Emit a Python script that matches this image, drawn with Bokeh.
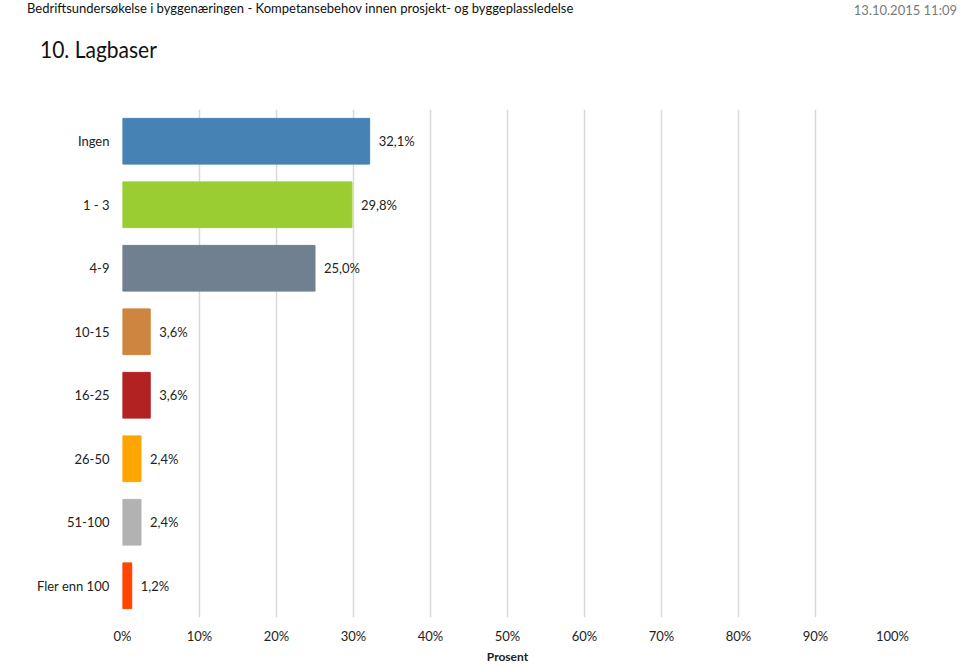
from bokeh.plotting import figure
from bokeh.layouts import column
from bokeh.models import ColumnDataSource, FactorRange, FixedTicker, LabelSet, Div
from bokeh.core.properties import value
from bokeh.embed import file_html
from bokeh.resources import INLINE

categories = ["Ingen", "1 - 3", "4-9", "10-15", "16-25", "26-50", "51-100", "Fler enn 100"]
values = [32.1, 29.8, 25.0, 3.6, 3.6, 2.4, 2.4, 1.2]
colors = ["#4682B4", "#9ACD32", "#708090", "#CD853F", "#B22222", "#FFA500", "#B2B2B2", "#FF4500"]
tick_values = [0, 10, 20, 30, 40, 50, 60, 70, 80, 90, 100]
tick_labels = ["0%", "10%", "20%", "30%", "40%", "50%", "60%", "70%", "80%", "90%", "100%"]
header = "Bedriftsundersøkelse i byggenæringen - Kompetansebehov innen prosjekt- og byggeplassledelse"
date_text = "13.10.2015 11:09"
title_text = "10. Lagbaser"
x_title = "Prosent"

FONT = "Lato"
W, H = 960, 666
HEAD_H = 109

# ---- header block (HTML text, absolutely positioned) ----
head_html = (
    f'<div style="position:relative;width:{W}px;height:{HEAD_H}px;font-family:Lato,sans-serif;">'
    f'<span style="position:absolute;left:27px;top:1px;font-size:13px;line-height:15px;'
    f'color:#111111;white-space:nowrap;">{header}</span>'
    f'<span style="position:absolute;right:3px;top:3px;font-size:13px;line-height:15px;'
    f'color:#7a7a7a;white-space:nowrap;">{date_text}</span>'
    f'<span style="position:absolute;left:40px;top:37px;font-size:24px;line-height:24px;'
    f'color:#111111;white-space:nowrap;display:inline-block;transform:scaleX(0.875);'
    f'transform-origin:left center;">{title_text}</span>'
    '</div>'
)
head = Div(text=head_html, width=W, height=HEAD_H, margin=0)

# ---- main chart ----
labels = [("%.1f%%" % v).replace(".", ",") for v in values]
src = ColumnDataSource(dict(cat=categories, val=values, col=colors, lab=labels))

p = figure(width=W, height=H - HEAD_H, output_backend="svg", toolbar_location=None,
           y_range=FactorRange(*reversed(categories), range_padding=0),
           x_range=(0, 100),
           min_border_left=122, min_border_right=68, min_border_top=0, min_border_bottom=44,
           margin=0)
p.outline_line_color = None
p.background_fill_color = "white"

p.hbar(y="cat", right="val", left=0, height=0.72, fill_color="col", line_color="col", source=src)

p.add_layout(LabelSet(x="val", y="cat", text="lab", source=src, x_offset=9,
                      text_baseline="middle", text_align="left",
                      text_font=value(FONT), text_font_size="13px", text_color="#222222"))

p.xgrid.ticker = FixedTicker(ticks=tick_values)
p.xgrid.grid_line_color = "#d9d9d9"
p.xgrid.grid_line_width = 1.5
p.ygrid.grid_line_color = None

p.xaxis.ticker = FixedTicker(ticks=tick_values)
p.xaxis.major_label_overrides = {t: l for t, l in zip(tick_values, tick_labels)}
p.xaxis.axis_line_color = None
p.xaxis.major_tick_line_color = None
p.xaxis.minor_tick_line_color = None
p.xaxis.major_label_text_font = FONT
p.xaxis.major_label_text_font_size = "13px"
p.xaxis.major_label_text_color = "#222222"
p.xaxis.major_label_standoff = 4
p.xaxis.axis_label = x_title
p.xaxis.axis_label_text_font = FONT
p.xaxis.axis_label_text_font_size = "12px"
p.xaxis.axis_label_text_font_style = "bold"
p.xaxis.axis_label_text_color = "#222222"
p.xaxis.axis_label_standoff = 2

p.yaxis.axis_line_color = None
p.yaxis.major_tick_line_color = None
p.yaxis.minor_tick_line_color = None
p.yaxis.major_label_text_font = FONT
p.yaxis.major_label_text_font_size = "13px"
p.yaxis.major_label_text_color = "#222222"
p.yaxis.major_label_standoff = 7

layout = column(head, p, spacing=0)
open("out.html", "w").write(file_html(layout, INLINE))
